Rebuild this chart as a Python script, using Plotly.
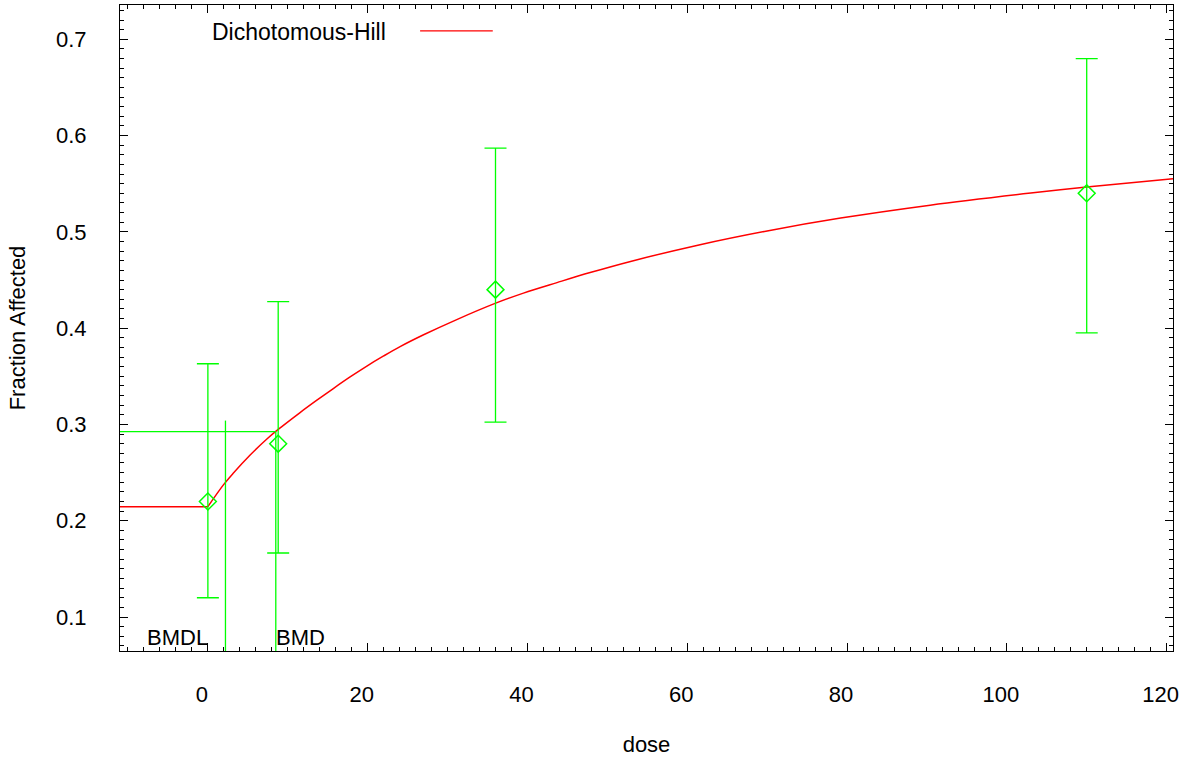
import plotly.graph_objects as go

# ---- data ----
dose = [0, 8.8, 36.0, 110.0]
frac = [0.22, 0.28, 0.44, 0.54]
err_hi = [0.363, 0.4275, 0.587, 0.680]
err_lo = [0.120, 0.1665, 0.3025, 0.395]

flat_x = [-11.0, 0.0]
flat_y = [0.2146, 0.2146]
fit_x = [0, 1.92, 3.17, 5.26, 7.35, 8.8, 11.5, 13.6, 15.7, 17.8, 19.9, 22.0,
         24.06, 27.0, 31.15, 35.95, 39.5, 43.7, 47.85, 52.9, 61.6, 70.0, 79.2,
         90.4, 103.0, 110.0, 120.8]
fit_y = [0.2146, 0.237, 0.2493, 0.268, 0.2846, 0.2948, 0.3121, 0.3249, 0.3373,
         0.3493, 0.3606, 0.3711, 0.3808, 0.3931, 0.4089, 0.4257, 0.4364, 0.4473,
         0.4577, 0.4693, 0.4867, 0.501, 0.5143, 0.5277, 0.5403, 0.5466, 0.5552]

bmd = 8.5
bmdl = 2.2
bmr_level = 0.2925
bmdl_top = 0.304

x_range = [-11.0, 120.8]
y_range = [0.0647, 0.7356]
x_ticks = [0, 20, 40, 60, 80, 100, 120]
y_ticks = [0.1, 0.2, 0.3, 0.4, 0.5, 0.6, 0.7]

GREEN = "#00ff00"
RED = "#ff0000"
FONT = "Liberation Sans, Arial, sans-serif"
FS = 22

fig = go.Figure()

# fitted model
fig.add_trace(go.Scatter(x=flat_x, y=flat_y, mode="lines",
                         line=dict(color=RED, width=1.5), showlegend=False))
fig.add_trace(go.Scatter(x=fit_x, y=fit_y, mode="lines",
                         line=dict(color=RED, width=1.5, shape="spline", smoothing=1.0),
                         showlegend=False))

# BMD / BMDL lines
fig.add_trace(go.Scatter(x=[x_range[0], bmd], y=[bmr_level, bmr_level], mode="lines",
                         line=dict(color=GREEN, width=1.3), showlegend=False))
fig.add_trace(go.Scatter(x=[bmd, bmd], y=[y_range[0], bmr_level], mode="lines",
                         line=dict(color=GREEN, width=1.3), showlegend=False))
fig.add_trace(go.Scatter(x=[bmdl, bmdl], y=[y_range[0], bmdl_top], mode="lines",
                         line=dict(color=GREEN, width=1.3), showlegend=False))

# observed data with error bars
fig.add_trace(go.Scatter(
    x=dose, y=frac, mode="markers",
    marker=dict(symbol="diamond-open", size=13, color=GREEN, line=dict(width=1.5, color=GREEN)),
    error_y=dict(type="data", symmetric=False,
                 array=[h - f for h, f in zip(err_hi, frac)],
                 arrayminus=[f - l for l, f in zip(err_lo, frac)],
                 color=GREEN, thickness=1.3, width=11),
    showlegend=False))

fig.add_annotation(x=bmdl, y=0.079, xref="x", yref="y", text="BMDL", showarrow=False,
                   xanchor="right", xshift=-15, font=dict(family=FONT, size=FS, color="black"))
fig.add_annotation(x=bmd, y=0.079, xref="x", yref="y", text="BMD", showarrow=False,
                   xanchor="left", xshift=-2, font=dict(family=FONT, size=FS, color="black"))

# legend (text left, line sample right)
fig.add_annotation(x=0.0855, y=0.958, xref="paper", yref="paper", text="Dichotomous-Hill",
                   showarrow=False, xanchor="left", yanchor="middle",
                   font=dict(family=FONT, size=23, color="black"))
fig.add_shape(type="line", xref="paper", yref="paper", x0=0.285, x1=0.354, y0=0.9598, y1=0.9598,
              line=dict(color=RED, width=1.3))

axis_common = dict(showline=True, linecolor="black", linewidth=1, mirror="allticks",
                   ticks="inside", ticklen=8, tickwidth=1, tickcolor="black",
                   showgrid=False, zeroline=False,
                   tickfont=dict(family=FONT, size=FS, color="black"))

fig.update_xaxes(range=x_range, tickvals=x_ticks, ticklabelstandoff=24, ticklabelshift=-6,
                 minor=dict(ticks="inside", ticklen=4, dtick=2, tickcolor="black", tickwidth=1),
                 title=dict(text="dose", standoff=30, font=dict(family=FONT, size=FS, color="black")),
                 **axis_common)
fig.update_yaxes(range=y_range, tickvals=y_ticks, ticklabelstandoff=28,
                 minor=dict(ticks="inside", ticklen=4, dtick=0.01, tickcolor="black", tickwidth=1),
                 title=dict(text="Fraction Affected", standoff=24, font=dict(family=FONT, size=FS, color="black")),
                 **axis_common)

fig.update_layout(width=1185, height=759, margin=dict(l=120, r=12, t=5, b=108),
                  plot_bgcolor="white", paper_bgcolor="white", showlegend=False)

fig.write_html("out.html")
